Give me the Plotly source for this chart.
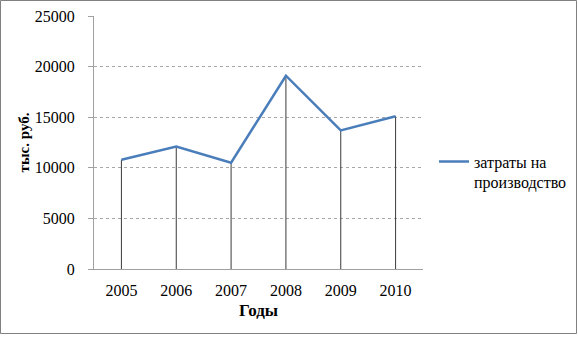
import plotly.graph_objects as go

years = ["2005", "2006", "2007", "2008", "2009", "2010"]
costs = [10800, 12100, 10500, 19100, 13700, 15100]
series_name = "затраты на<br>производство"
y_ticks = [0, 5000, 10000, 15000, 20000, 25000]
y_tick_labels = [str(v) for v in y_ticks]

W, H = 578, 337
ml, mr, mt, mb = 94, 155, 16, 68
pw, ph = W - ml - mr, H - mt - mb

# drop lines from each point to the axis
dx, dy = [], []
for yr, v in zip(years, costs):
    dx += [yr, yr, None]
    dy += [0, v, None]

fig = go.Figure()
fig.add_trace(go.Scatter(x=dx, y=dy, mode="lines", line=dict(color="#3a3a3a", width=1),
                         showlegend=False, hoverinfo="skip"))
fig.add_trace(go.Scatter(x=years, y=costs, mode="lines", name=series_name,
                         line=dict(color="#4a7ebb", width=2.5)))

ff = "Liberation Serif"
fig.update_layout(
    template="none",
    width=W, height=H,
    margin=dict(l=ml, r=mr, t=mt, b=mb, autoexpand=False),
    paper_bgcolor="white", plot_bgcolor="white",
    font=dict(family=ff, size=16, color="black"),
    xaxis=dict(type="category", range=[-0.5, 5.5], showgrid=False, automargin=False,
               showline=True, linecolor="#a0a0a0", linewidth=1, ticks="",
               ticklabelstandoff=7, tickfont=dict(family=ff, size=16, color="black"),
               title=dict(text="<b>Годы</b>", font=dict(family=ff, size=17, color="black"), standoff=5)),
    yaxis=dict(range=[0, 25000], tickvals=y_ticks, ticktext=y_tick_labels, showgrid=True,
               automargin=False,
               gridcolor="#a8a8a8", gridwidth=1, griddash="dot",
               showline=True, linecolor="#a0a0a0", linewidth=1,
               ticks="outside", ticklen=5, tickcolor="#a0a0a0",
               ticklabelstandoff=10, tickfont=dict(family=ff, size=16, color="black"), zeroline=False,
               title=dict(text="<b>тыс. руб.</b>", font=dict(family=ff, size=15, color="black"), standoff=1)),
    legend=dict(xref="container", yref="container", x=434 / W, y=1 - 172 / H,
                xanchor="left", yanchor="middle",
                valign="top", font=dict(family=ff, size=16, color="black"),
                bgcolor="rgba(0,0,0,0)", itemwidth=30),
    shapes=[dict(type="rect", xref="paper", yref="paper",
                 x0=(0.5 - ml) / pw, x1=(576.5 - ml) / pw,
                 y0=(H - mb - 333.5) / ph, y1=(H - mb - 0.5) / ph,
                 line=dict(color="#808080", width=1), layer="below")],
)
fig.write_html("out.html")
